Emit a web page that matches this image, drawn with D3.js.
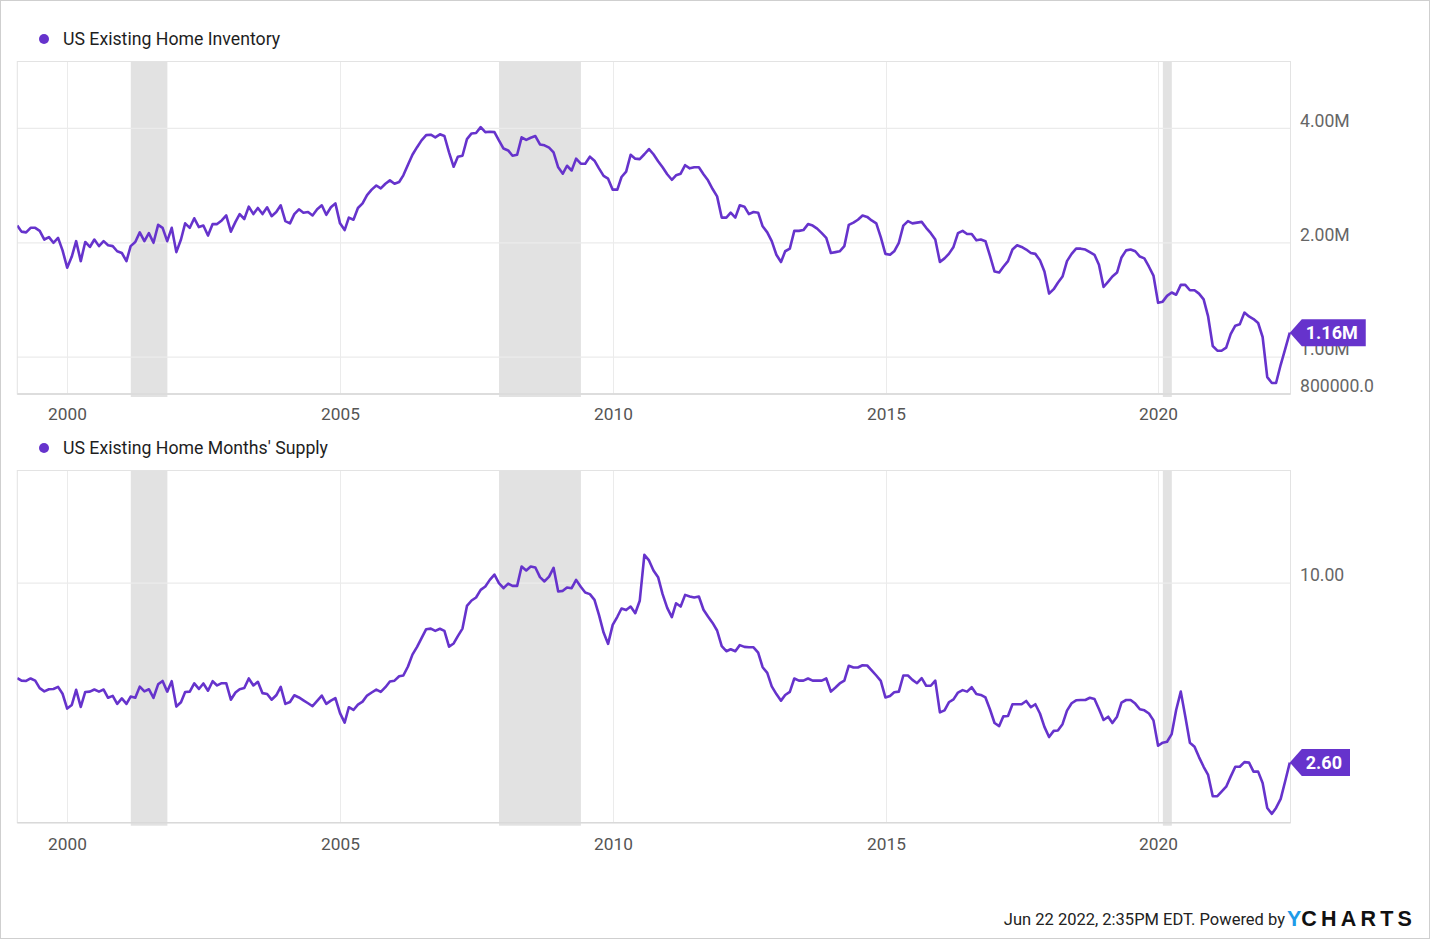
<!DOCTYPE html>
<html><head><meta charset="utf-8">
<script src="https://cdn.jsdelivr.net/npm/d3@7"></script>
<style>
html,body{margin:0;padding:0;background:#fff;}
svg{display:block;font-family:Roboto,"Noto Sans",sans-serif;}
</style></head><body>
<svg id="chart" width="1430" height="939"></svg>
<script>
// ---- data (monthly, Jan 1999 .. May 2022) ----
const startYear = 1999;
const inventoryM = [ // millions of homes
 2.22,2.14,2.13,2.19,2.19,2.15,2.04,2.07,2.00,2.06,1.91,1.72,
 1.84,2.02,1.79,2.01,1.95,2.04,1.96,2.02,1.97,1.96,1.90,1.88,
 1.79,1.96,2.01,2.13,2.02,2.12,2.00,2.23,2.19,2.02,2.19,1.89,
 2.04,2.25,2.19,2.32,2.20,2.22,2.09,2.24,2.24,2.29,2.36,2.14,
 2.27,2.38,2.31,2.49,2.38,2.47,2.38,2.48,2.35,2.41,2.51,2.28,
 2.25,2.38,2.45,2.40,2.41,2.36,2.45,2.51,2.37,2.48,2.54,2.25,
 2.16,2.33,2.30,2.47,2.54,2.67,2.76,2.83,2.78,2.86,2.92,2.86,
 2.89,3.01,3.21,3.41,3.57,3.72,3.84,3.85,3.79,3.86,3.82,3.46,
 3.17,3.37,3.39,3.75,3.88,3.89,4.03,3.91,3.92,3.91,3.72,3.54,
 3.50,3.39,3.41,3.79,3.73,3.78,3.82,3.63,3.61,3.56,3.46,3.16,
 3.04,3.19,3.10,3.33,3.23,3.23,3.37,3.29,3.14,3.00,2.95,2.76,
 2.76,2.98,3.08,3.41,3.33,3.32,3.42,3.53,3.42,3.28,3.16,3.03,
 2.93,3.01,3.04,3.20,3.14,3.16,3.16,3.03,2.92,2.77,2.65,2.33,
 2.33,2.40,2.33,2.51,2.49,2.38,2.41,2.40,2.21,2.13,2.02,1.86,
 1.78,1.90,1.93,2.15,2.15,2.16,2.24,2.22,2.18,2.12,2.06,1.88,
 1.89,1.90,1.96,2.23,2.26,2.30,2.36,2.34,2.29,2.25,2.07,1.87,
 1.86,1.90,2.00,2.22,2.28,2.25,2.26,2.27,2.19,2.12,2.04,1.78,
 1.82,1.87,1.95,2.12,2.15,2.11,2.11,2.03,2.04,2.02,1.85,1.68,
 1.67,1.73,1.79,1.92,1.97,1.95,1.92,1.88,1.87,1.80,1.68,1.47,
 1.51,1.57,1.63,1.79,1.87,1.93,1.93,1.92,1.89,1.86,1.75,1.53,
 1.58,1.63,1.67,1.83,1.91,1.92,1.90,1.84,1.82,1.73,1.64,1.39,
 1.40,1.45,1.48,1.46,1.55,1.55,1.50,1.50,1.47,1.42,1.28,1.07,
 1.04,1.04,1.06,1.15,1.21,1.22,1.31,1.28,1.26,1.23,1.13,0.886,
 0.855,0.855,0.955,1.05,1.16
];
const monthsSupply = [
 4.90,4.81,4.80,4.89,4.81,4.55,4.44,4.51,4.52,4.59,4.36,3.90,
 4.01,4.49,3.95,4.42,4.43,4.50,4.43,4.50,4.23,4.29,4.04,4.21,
 4.04,4.27,4.23,4.60,4.44,4.51,4.23,4.68,4.80,4.43,4.79,3.96,
 4.09,4.42,4.43,4.71,4.52,4.71,4.46,4.79,4.64,4.72,4.72,4.17,
 4.40,4.51,4.55,4.89,4.64,4.77,4.38,4.35,4.17,4.31,4.59,4.04,
 4.10,4.31,4.24,4.15,4.06,3.97,4.13,4.30,4.04,4.14,4.22,3.77,
 3.51,3.94,3.86,4.02,4.11,4.30,4.40,4.50,4.42,4.58,4.78,4.81,
 4.97,5.00,5.35,5.85,6.20,6.62,7.08,7.11,6.99,7.10,6.99,6.21,
 6.36,6.72,7.11,8.43,8.78,8.98,9.51,9.75,10.25,10.67,10.00,9.63,
 9.97,9.80,9.80,11.33,11.00,11.33,11.25,10.46,10.13,10.51,11.22,9.39,
 9.44,9.68,9.63,10.25,9.73,9.32,9.21,8.82,7.88,6.90,6.34,7.31,
 7.77,8.27,8.17,8.39,7.98,8.76,12.37,11.86,11.00,10.46,9.21,8.31,
 7.75,8.60,8.39,9.16,9.05,8.98,9.05,8.19,7.79,7.42,7.01,6.23,
 6.00,6.09,6.00,6.28,6.20,6.18,6.18,5.94,5.32,5.10,4.61,4.35,
 4.14,4.32,4.42,4.89,4.81,4.81,4.89,4.81,4.81,4.81,4.89,4.43,
 4.57,4.71,4.81,5.38,5.31,5.31,5.40,5.39,5.20,5.00,4.80,4.24,
 4.29,4.41,4.43,5.00,5.00,4.84,4.72,4.90,4.63,4.63,4.81,3.79,
 3.85,4.09,4.18,4.40,4.48,4.43,4.58,4.35,4.32,4.24,3.88,3.50,
 3.42,3.68,3.69,4.03,4.03,4.03,4.13,3.94,4.03,3.76,3.40,3.15,
 3.30,3.31,3.47,3.84,4.06,4.15,4.16,4.16,4.23,4.19,3.89,3.58,
 3.67,3.50,3.67,4.08,4.16,4.16,4.05,3.88,3.85,3.76,3.57,2.95,
 3.02,3.04,3.22,3.86,4.43,3.68,3.02,2.93,2.71,2.52,2.37,2.02,
 2.02,2.09,2.17,2.34,2.52,2.52,2.61,2.60,2.43,2.43,2.23,1.85,
 1.77,1.85,1.98,2.26,2.60
];
const recessions = [["2001-03-01","2001-11-01"],["2007-12-01","2009-06-01"],["2020-02-01","2020-04-01"]];
const xTickYears = [2000,2005,2010,2015,2020];
const invTicks = [0.8,1,2,4];
const invTickLabels = ["800000.0","1.00M","2.00M","4.00M"];
const supTicks = [10];
const supTickLabels = ["10.00"];
const seriesNames = ["US Existing Home Inventory","US Existing Home Months' Supply"];
const lastLabels = ["1.16M","2.60"];
const footerText = "Jun 22 2022, 2:35PM EDT. Powered by";

// ---- drawing ----
const PURPLE = "#6633cc";
const svg = d3.select("#chart");
svg.append("rect").attr("x",0.5).attr("y",0.5).attr("width",1429).attr("height",938)
  .attr("fill","#fff").attr("stroke","#cfcfcf");

const dates = inventoryM.map((_, i) => new Date(startYear, i + 1, 0)); // month-end
const L = 17.3, R = 1290.5;
const x = d3.scaleTime().domain([dates[0], dates[dates.length - 1]]).range([L, 1289.8]);

const panels = [
  {name: seriesNames[0], values: inventoryM, top: 61.5, bottom: 394, legendY: 39,
   y: d3.scaleLog().domain([0.8, 6]).range([394, 61.5]),
   ticks: invTicks, tickLabels: invTickLabels, last: lastLabels[0], xLabelY: 420},
  {name: seriesNames[1], values: monthsSupply, top: 470.5, bottom: 822.7, legendY: 448,
   y: d3.scaleLog().domain([1.656, 23.3]).range([822.7, 470.5]),
   ticks: supTicks, tickLabels: supTickLabels, last: lastLabels[1], xLabelY: 850}
];

panels.forEach((p, pi) => {
  const g = svg.append("g");
  // legend
  g.append("circle").attr("cx", 44).attr("cy", p.legendY).attr("r", 5).attr("fill", PURPLE);
  g.append("text").attr("x", 63).attr("y", p.legendY).attr("dy", "0.35em")
    .attr("font-size", 17.7).attr("fill", "#1e1e1e").text(p.name);

  // recession bands
  recessions.forEach(([a, b]) => {
    const xa = x(new Date(a + "T00:00:00")), xb = x(new Date(b + "T00:00:00"));
    g.append("rect").attr("x", xa).attr("y", p.top).attr("width", xb - xa)
      .attr("height", p.bottom - p.top + 3).attr("fill", "#e2e2e2");
  });

  // vertical grid
  xTickYears.forEach(yr => {
    const xx = Math.round(x(new Date(yr, 0, 1))) + 0.5;
    g.append("line").attr("x1", xx).attr("x2", xx).attr("y1", p.top).attr("y2", p.bottom)
      .attr("stroke", "#ebebeb").attr("stroke-width", 1);
    g.append("text").attr("x", xx).attr("y", p.xLabelY).attr("text-anchor", "middle")
      .attr("font-size", 17.3).attr("fill", "#555").text(yr);
  });

  // horizontal grid + y labels
  p.ticks.forEach((t, k) => {
    const yy = p.y(t);
    g.append("line").attr("x1", L).attr("x2", R).attr("y1", yy).attr("y2", yy)
      .attr("stroke", "#ebebeb").attr("stroke-width", 1.2);
    g.append("text").attr("x", 1300).attr("y", yy - 8).attr("dy", "0.35em")
      .attr("font-size", 17.6).attr("fill", "#666").text(p.tickLabels[k]);
  });

  // plot border
  g.append("rect").attr("x", L).attr("y", p.top).attr("width", R - L).attr("height", p.bottom - p.top)
    .attr("fill", "none").attr("stroke", "#e3e3e3").attr("stroke-width", 1);
  g.append("line").attr("x1", L).attr("x2", R).attr("y1", p.bottom).attr("y2", p.bottom)
    .attr("stroke", "#d9d9d9").attr("stroke-width", 1.5);

  // line
  const clipId = "clip" + pi;
  svg.append("clipPath").attr("id", clipId).append("rect")
    .attr("x", L).attr("y", p.top).attr("width", R - L + 2).attr("height", p.bottom - p.top);
  const line = d3.line().x((d, i) => x(dates[i])).y(d => p.y(d));
  g.append("path").datum(p.values).attr("d", line).attr("fill", "none")
    .attr("stroke", PURPLE).attr("stroke-width", 2.6).attr("stroke-linejoin", "round")
    .attr("clip-path", `url(#${clipId})`);

  // last value badge
  const n = p.values.length - 1;
  const tx = x(dates[n]), ty = p.y(p.values[n]);
  const bg = g.append("g");
  const path = bg.append("path").attr("fill", PURPLE);
  const txt = bg.append("text").attr("x", tx + 16).attr("y", ty).attr("dy", "0.36em")
    .attr("font-size", 18).attr("font-weight", "bold").attr("fill", "#fff").text(p.last);
  const w = txt.node().getComputedTextLength();
  const right = tx + 16 + w + 8;
  path.attr("d", `M${tx},${ty} L${tx + 12},${ty - 13.5} L${right},${ty - 13.5} L${right},${ty + 13.5} L${tx + 12},${ty + 13.5} Z`);
});

// footer
svg.append("text").attr("x", 1285).attr("y", 925).attr("text-anchor", "end")
  .attr("font-size", 16.5).attr("fill", "#222").text(footerText);
const logo = svg.append("text").attr("x", 1287).attr("y", 926)
  .attr("font-family", "'Liberation Sans', Arial, sans-serif").attr("font-weight", "bold").attr("font-size", 21.5);
logo.append("tspan").attr("fill", "#1e9be8").text("Y");
logo.append("tspan").attr("fill", "#111").attr("letter-spacing", 4.2).text("CHARTS");
</script>
</body></html>
